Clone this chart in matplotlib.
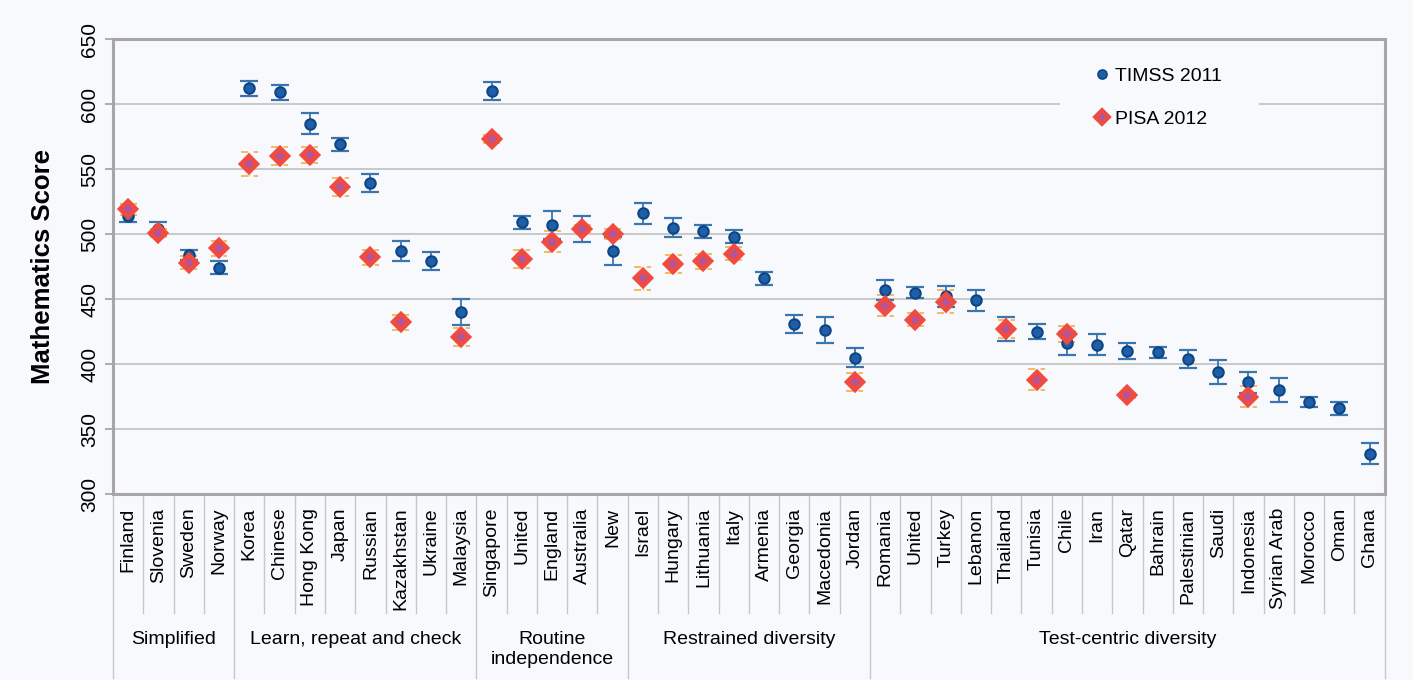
import numpy as np
import matplotlib
matplotlib.use("Agg")
import matplotlib.pyplot as plt
from matplotlib.lines import Line2D
from matplotlib.patches import Rectangle
import matplotlib.transforms as mtransforms

plt.rcParams['font.family'] = ['Liberation Sans', 'DejaVu Sans']

countries = ["Finland", "Slovenia", "Sweden", "Norway",
             "Korea", "Chinese", "Hong Kong", "Japan", "Russian", "Kazakhstan", "Ukraine", "Malaysia",
             "Singapore", "United", "England", "Australia", "New",
             "Israel", "Hungary", "Lithuania", "Italy", "Armenia", "Georgia", "Macedonia", "Jordan",
             "Romania", "United", "Turkey", "Lebanon", "Thailand", "Tunisia", "Chile", "Iran", "Qatar",
             "Bahrain", "Palestinian", "Saudi", "Indonesia", "Syrian Arab", "Morocco", "Oman", "Ghana"]

groups = ["Simplified", "Learn, repeat and check", "Routine\nindependence",
          "Restrained diversity", "Test-centric diversity"]
group_sizes = [4, 8, 5, 8, 17]

timss = [514, 504, 484, 474,
         612, 609, 585, 569, 539, 487, 479, 440,
         610, 509, 507, 504, 487,
         516, 505, 502, 498, 466, 431, 426, 405,
         457, 455, 452, 449, 427, 425, 416, 415, 410,
         409, 404, 394, 386, 380, 371, 366, 331]
timss_err = [5, 5, 4, 5,
             6, 6, 8, 5, 7, 8, 7, 10,
             7, 5, 11, 10, 11,
             8, 7, 5, 5, 5, 7, 10, 7,
             8, 4, 8, 8, 9, 6, 9, 8, 6,
             4, 7, 9, 8, 9, 4, 5, 8]

nan = np.nan
pisa = [519, 501, 478, 489,
        554, 560, 561, 536, 482, 432, nan, 421,
        573, 481, 494, 504, 500,
        466, 477, 479, 485, nan, nan, nan, 386,
        445, 434, 448, nan, 427, 388, 423, nan, 376,
        nan, nan, nan, 375, nan, nan, nan, nan]
pisa_err = [4, 3, 5, 6,
            9, 7, 6, 7, 6, 6, nan, 7,
            3, 7, 8, 3, 4,
            9, 7, 6, 5, nan, nan, nan, 7,
            8, 5, 9, nan, 7, 8, 6, nan, 2,
            nan, nan, nan, 8, nan, nan, nan, nan]

bg = "#f7f9fd"
fig = plt.figure(figsize=(14.13, 6.8), dpi=100, facecolor=bg)
ax = fig.add_axes([0.080, 0.2735, 0.900, 0.669])
ax.set_facecolor(bg)

x = np.arange(len(countries))
pisa = np.array(pisa, dtype=float)
pisa_err = np.array(pisa_err, dtype=float)

# PISA error bars: light orange dashed caps
ok = ~np.isnan(pisa)
ax.vlines(x[ok], pisa[ok] - pisa_err[ok], pisa[ok] + pisa_err[ok],
          color="#f7c27a", lw=1, linestyles=(0, (3, 2)), zorder=2)
for sgn in (-1, 1):
    ax.hlines(pisa[ok] + sgn * pisa_err[ok], x[ok] - 0.28, x[ok] + 0.28,
              color="#f5b455", lw=1.3, linestyles=(0, (4, 3)), zorder=2)

# TIMSS with error bars
ax.errorbar(x, timss, yerr=timss_err, fmt='none', ecolor="#3c74ae",
            elinewidth=1.3, capsize=6.5, capthick=1.6, zorder=3)
ax.plot(x, timss, 'o', ms=7.5, mfc="#1f5fa8", mec="#0d4585", mew=1.5, zorder=4)

# PISA diamonds
ax.plot(x, pisa, 'D', ms=8, mfc="#b4559a", mec="#f04b3e", mew=3.2, zorder=5)

ax.set_xlim(-0.5, len(countries) - 0.5)
ax.set_ylim(300, 650)
ax.set_yticks(np.arange(300, 651, 50))
ax.yaxis.grid(True, color="#c4c4c4", lw=1.3)
ax.set_axisbelow(True)
ax.tick_params(axis='y', labelsize=15, length=6, color="#a6a6a6", width=1.3, pad=4)
for lab in ax.get_yticklabels():
    lab.set_rotation(90)
    lab.set_va('center')
ax.set_xticks([])
for s in ax.spines.values():
    s.set_color("#a6a6a6")
    s.set_linewidth(2.2)

ax.set_ylabel("Mathematics Score", fontsize=18.5, fontweight='bold', labelpad=18)

# category labels and separators below axis
trans = mtransforms.blended_transform_factory(ax.transData, ax.transAxes)
for i, name in enumerate(countries):
    ax.text(i, -0.03, name, rotation=90, ha='center', va='top', fontsize=14,
            transform=trans, clip_on=False)

bounds = np.cumsum([0] + group_sizes)
for i in range(len(countries) + 1):
    yb = -0.405 if i in bounds else -0.262
    ax.add_line(Line2D([i - 0.5, i - 0.5], [0, yb], transform=trans, color="#c8c8c8",
                       lw=1, clip_on=False))

for g, a, b in zip(groups, bounds[:-1], bounds[1:]):
    ax.text((a + b - 1) / 2, -0.301, g, ha='center', va='top', fontsize=14,
            transform=trans, clip_on=False, linespacing=1.2)

# legend, sitting on a patch that hides the gridline behind it
ax.add_patch(Rectangle((0.745, 0.78), 0.156, 0.19, transform=ax.transAxes,
                       facecolor=bg, edgecolor='none', zorder=1))
h1 = Line2D([], [], ls='none', marker='o', ms=6.5, mfc="#1f5fa8", mec="#0d4585", mew=1.2)
h2 = Line2D([], [], ls='none', marker='D', ms=7, mfc="#b4559a", mec="#f04b3e", mew=2.8)
leg = ax.legend([h1, h2], ["TIMSS 2011", "PISA 2012"], loc='upper left',
                bbox_to_anchor=(0.759, 0.972), fontsize=14, frameon=False,
                handlelength=0.8, handletextpad=0.3, labelspacing=1.31,
                borderpad=0.8, borderaxespad=0)

fig.savefig("out.png", dpi=100, facecolor=bg)
